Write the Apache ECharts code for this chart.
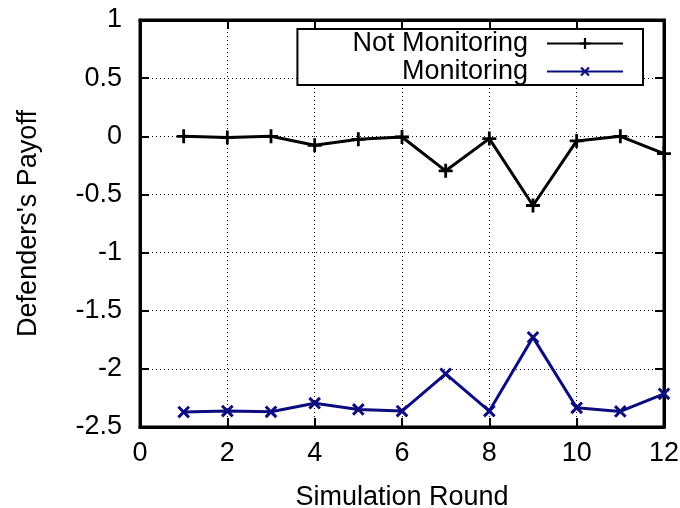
<!DOCTYPE html>
<html>
<head>
<meta charset="utf-8">
<script src="https://cdn.jsdelivr.net/npm/echarts@6/dist/echarts.min.js"></script>
<style>
  html, body { margin: 0; padding: 0; background: #fff; }
  #chart { width: 680px; height: 508px; }
</style>
</head>
<body>
<div id="chart"></div>
<script>
const rounds = [1, 2, 3, 4, 5, 6, 7, 8, 9, 10, 11, 12];
const notMonitoring = [0, -0.01, 0, -0.077, -0.026, -0.006, -0.297, -0.02, -0.595, -0.04, 0, -0.149];
const monitoring = [-2.372, -2.363, -2.369, -2.295, -2.349, -2.363, -2.043, -2.363, -1.729, -2.335, -2.366, -2.215];

const font = "Liberation Sans";
const fs = 27;
const plusPath = "path://M4,0H6V4H10V6H6V10H4V6H0V4H4Z";

const chart = echarts.init(document.getElementById("chart"));

const axisCommon = {
  axisLine: { onZero: false, lineStyle: { color: "#000", width: 3 } },
  axisTick: { inside: true, length: 9, lineStyle: { color: "#000", width: 2 } },
};

const options = {
  animation: false,
  textStyle: { fontFamily: font },
  grid: {
    left: 140, right: 16, top: 20, bottom: 81,
    outerBoundsMode: "none",
    show: true, borderColor: "#000", borderWidth: 3,
  },
  legend: {
    data: ["Not Monitoring", "Monitoring"],
    orient: "vertical",
    right: 37,
    top: 29,
    align: "right",
    backgroundColor: "#fff",
    borderColor: "#000",
    borderWidth: 2,
    padding: [1, 19, 0, 55],
    itemGap: 1,
    itemWidth: 76,
    itemHeight: 14,
    textStyle: { fontFamily: font, fontSize: fs, lineHeight: 27, color: "#000", padding: [0, 14, 0, 0] },
  },
  xAxis: [
    {
      type: "value",
      min: 0,
      max: 12,
      interval: 2,
      name: "Simulation Round",
      nameLocation: "middle",
      nameGap: 57,
      nameTextStyle: { fontFamily: font, fontSize: fs, color: "#000" },
      axisLabel: { fontFamily: font, fontSize: fs, color: "#000", margin: 13 },
      splitLine: { show: true, lineStyle: { color: "#000", width: 1, type: [1, 3] } },
      ...axisCommon,
    },
    {
      type: "value",
      position: "top",
      min: 0,
      max: 12,
      interval: 2,
      axisLabel: { show: false },
      splitLine: { show: false },
      ...axisCommon,
    },
  ],
  yAxis: [
    {
      type: "value",
      min: -2.5,
      max: 1,
      interval: 0.5,
      name: "Defenders's Payoff",
      nameLocation: "middle",
      nameGap: 98,
      nameTextStyle: { fontFamily: font, fontSize: fs, color: "#000" },
      axisLabel: { fontFamily: font, fontSize: fs, color: "#000", margin: 18 },
      splitLine: { show: true, lineStyle: { color: "#000", width: 1, type: [1, 3] } },
      ...axisCommon,
    },
    {
      type: "value",
      position: "right",
      min: -2.5,
      max: 1,
      interval: 0.5,
      axisLabel: { show: false },
      splitLine: { show: false },
      ...axisCommon,
    },
  ],
  series: [
    {
      name: "Not Monitoring",
      type: "line",
      data: rounds.map((r, i) => [r, notMonitoring[i]]),
      symbol: plusPath,
      symbolSize: 14,
      showAllSymbol: true,
      itemStyle: { color: "#000" },
      lineStyle: { color: "#000", width: 3 },
    },
    {
      name: "Monitoring",
      type: "line",
      data: rounds.map((r, i) => [r, monitoring[i]]),
      symbol: plusPath,
      symbolRotate: 45,
      symbolSize: 15,
      showAllSymbol: true,
      itemStyle: { color: "#0c0c80" },
      lineStyle: { color: "#0c0c80", width: 3 },
    },
  ],
};

chart.setOption(options);
</script>
</body>
</html>
